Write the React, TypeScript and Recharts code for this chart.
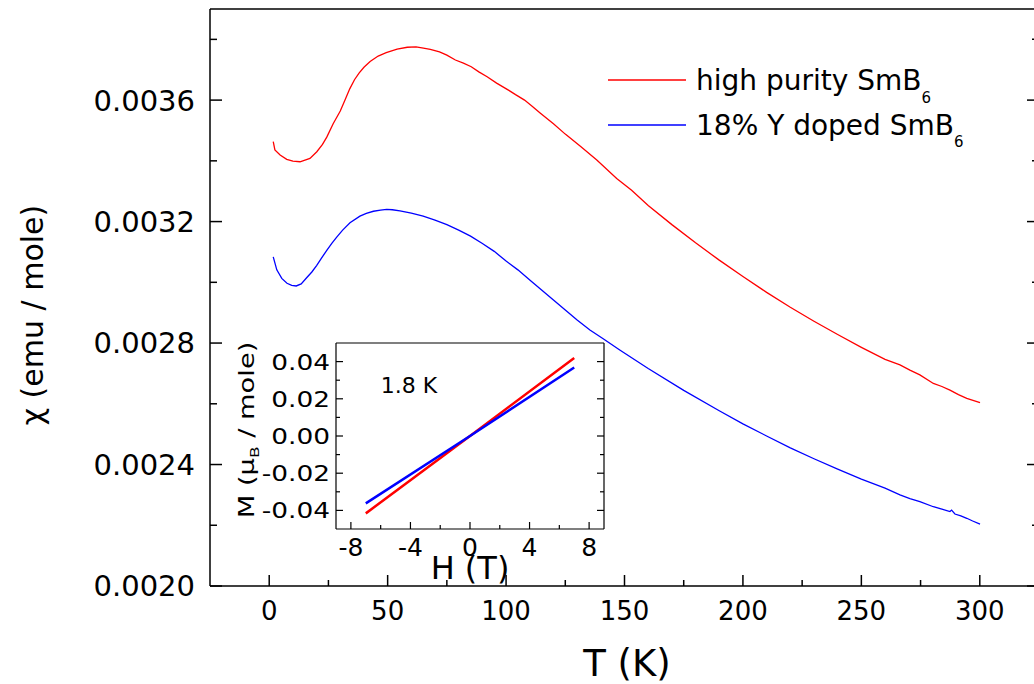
import React from 'react';
import { LineChart, Line, XAxis, YAxis, Customized } from 'recharts';

const FONT = '"DejaVu Sans", Verdana, sans-serif';

// --- main panel: chi(T) ---
const redT = [
  1.7, 2.4, 4.6, 7.4, 10, 13, 17.2, 20.1, 22.5, 24.3, 27, 30, 32, 34, 36, 38, 40, 42.6, 46, 49.4, 54,
  58.3, 62, 65.1, 68, 71.9, 75, 78.6, 82, 85.3, 88.5, 92, 96, 101, 104, 107.8, 111, 114.5, 120, 125,
  131.5, 138.3, 146.7, 153, 160, 170, 180, 190, 200, 210, 220, 230, 240, 250, 260, 266.3, 270.5,
  274.7, 280.4, 284, 287.4, 291, 294.5, 300.1,
];
const redChi = [
  0.003463, 0.003436, 0.003419, 0.003405, 0.003399, 0.003397, 0.003408, 0.00343, 0.003454, 0.003478,
  0.003522, 0.003564, 0.0036, 0.003637, 0.003667, 0.00369, 0.003708, 0.003727, 0.003745, 0.003756,
  0.003768, 0.003774, 0.003775, 0.003771, 0.003767, 0.003759, 0.003748, 0.003732, 0.003722, 0.00371,
  0.003693, 0.003677, 0.003656, 0.003633, 0.003618, 0.0036, 0.00358, 0.003557, 0.003522, 0.003488,
  0.003447, 0.003403, 0.003342, 0.003303, 0.003253, 0.00319, 0.00313, 0.003073, 0.003019, 0.002967,
  0.002918, 0.002872, 0.002828, 0.002786, 0.002746, 0.002728, 0.002711, 0.002695, 0.002667, 0.002657,
  0.002645, 0.00263, 0.002618, 0.002604,
];

const blueT = [
  1.7, 3.2, 5.3, 7.5, 9.5, 11.4, 13.5, 15.8, 18, 20, 22, 24.3, 26.5, 28.5, 31, 34.1, 38.3, 41, 44, 47,
  49.6, 52, 55.2, 60, 65, 70, 75, 80, 85, 90, 95, 100, 105, 110, 115, 120, 125, 130, 135.4, 141, 148,
  160, 175, 190, 200, 210, 220, 230, 240, 250, 260, 266.3, 270.5, 274.7, 280.4, 284, 287.4, 288.1,
  289.5, 292, 294.5, 297, 300.1,
];
const blueChi = [
  0.003084, 0.003041, 0.003013, 0.002997, 0.00299, 0.002988, 0.002995, 0.003015, 0.003034, 0.003055,
  0.003079, 0.003105, 0.003129, 0.003149, 0.003172, 0.003196, 0.003218, 0.003227, 0.003234, 0.003238,
  0.00324, 0.003239, 0.003235, 0.003228, 0.003218, 0.003205, 0.00319, 0.003172, 0.003152, 0.003128,
  0.003102, 0.00307, 0.003041, 0.003008, 0.002975, 0.002942, 0.002909, 0.002876, 0.002843, 0.002814,
  0.002777, 0.002716, 0.002644, 0.002577, 0.002534, 0.002494, 0.002455, 0.002419, 0.002385, 0.002352,
  0.002322, 0.0023, 0.002288, 0.002278, 0.002261, 0.002253, 0.002245, 0.00225, 0.002237, 0.002231,
  0.002223, 0.002214, 0.002204,
];

const tTicks = [0, 25, 50, 75, 100, 125, 150, 175, 200, 225, 250, 275, 300];
const chiTicks = [0.002, 0.0022, 0.0024, 0.0026, 0.0028, 0.003, 0.0032, 0.0034, 0.0036, 0.0038];

// --- inset: M(H) at 1.8 K ---
const insetH = [-7, 0, 7];
const insetRedM = [-0.0416, 0, 0.042];
const insetBlueM = [-0.0362, 0, 0.0368];
const hTicks = [-8, -6, -4, -2, 0, 2, 4, 6, 8];
const mTicks = [-0.04, -0.03, -0.02, -0.01, 0, 0.01, 0.02, 0.03, 0.04];

const redData = redT.map((T, i) => ({ T, chi: redChi[i] }));
const blueData = blueT.map((T, i) => ({ T, chi: blueChi[i] }));
const insetRed = insetH.map((H, i) => ({ H, M: insetRedM[i] }));
const insetBlue = insetH.map((H, i) => ({ H, M: insetBlueM[i] }));

const AX = { stroke: '#000', strokeWidth: 1.5 };
const AX_IN = { stroke: '#000', strokeWidth: 1.2 };

const majorT = (v: number) => v % 50 === 0;
const majorChi = (v: number) => Math.round(v * 10000) % 4 === 0;
const majorH = (v: number) => v % 4 === 0;
const majorM = (v: number) => Math.round(v * 100) % 2 === 0;

// main ticks (inward)
const TBottomTick = (p: any) => {
  const { x, y, payload } = p;
  const big = majorT(payload.value);
  return (
    <g>
      <line x1={x} y1={y} x2={x} y2={y - (big ? 11 : 6)} {...AX} />
      {big && (
        <text x={x} y={y + 25} dy="0.36em" textAnchor="middle" fontFamily={FONT} fontSize={26} fill="#000">
          {payload.value}
        </text>
      )}
    </g>
  );
};

const TTopTick = (p: any) => {
  const { x, y, payload } = p;
  return <line x1={x} y1={y} x2={x} y2={y + (majorT(payload.value) ? 11 : 6)} {...AX} />;
};

const ChiLeftTick = (p: any) => {
  const { x, y, payload } = p;
  const big = majorChi(payload.value);
  return (
    <g>
      <line x1={x} y1={y} x2={x + (big ? 12 : 7)} y2={y} {...AX} />
      {big && (
        <text x={x - 15} y={y} dy="0.36em" textAnchor="end" fontFamily={FONT} fontSize={29} fill="#000">
          {payload.value.toFixed(4)}
        </text>
      )}
    </g>
  );
};

const ChiRightTick = (p: any) => {
  const { x, y, payload } = p;
  return <line x1={x} y1={y} x2={x - (majorChi(payload.value) ? 12 : 7)} y2={y} {...AX} />;
};

// inset ticks (inward)
const HBottomTick = (p: any) => {
  const { x, y, payload } = p;
  const big = majorH(payload.value);
  return (
    <g>
      <line x1={x} y1={y} x2={x} y2={y - (big ? 7 : 4)} {...AX_IN} />
      {big && (
        <text x={x} y={y + 18} dy="0.36em" textAnchor="middle" fontFamily={FONT} fontSize={25} fill="#000">
          {payload.value}
        </text>
      )}
    </g>
  );
};

const HTopTick = (p: any) => {
  const { x, y, payload } = p;
  return <line x1={x} y1={y} x2={x} y2={y + (majorH(payload.value) ? 7 : 4)} {...AX_IN} />;
};

const MLeftTick = (p: any) => {
  const { x, y, payload } = p;
  const big = majorM(payload.value);
  return (
    <g>
      <line x1={x} y1={y} x2={x + (big ? 7 : 4)} y2={y} {...AX_IN} />
      {big && (
        <g transform={`translate(${x - 6},${y}) scale(1.2,1)`}>
          <text x={0} y={0} dy="0.36em" textAnchor="end" fontFamily={FONT} fontSize={22} fill="#000">
            {payload.value.toFixed(2)}
          </text>
        </g>
      )}
    </g>
  );
};

const MRightTick = (p: any) => {
  const { x, y, payload } = p;
  return <line x1={x} y1={y} x2={x - (majorM(payload.value) ? 7 : 4)} y2={y} {...AX_IN} />;
};

const MainDecor = () => (
  <g fontFamily={FONT} fill="#000">
    <line x1={608} y1={80} x2={686} y2={80} stroke="#ff0000" strokeWidth={1.3} />
    <text x={696} y={90} fontSize={28}>
      high purity SmB<tspan dy={13} fontSize={15}>6</tspan>
    </text>
    <line x1={608} y1={125} x2={686} y2={125} stroke="#0000ff" strokeWidth={1.3} />
    <text x={696} y={135} fontSize={28}>
      18% Y doped SmB<tspan dy={12} fontSize={15}>6</tspan>
    </text>
    <text x={627} y={676} textAnchor="middle" fontSize={37}>T (K)</text>
    <text transform="translate(43,315) rotate(-90)" textAnchor="middle" fontSize={30}>
      χ (emu / mole)
    </text>
  </g>
);

const InsetDecor = () => (
  <g fontFamily={FONT} fill="#000">
    <text x={189} y={63} textAnchor="middle" fontSize={22}>1.8 K</text>
    <text x={250} y={249} textAnchor="middle" fontSize={32}>H (T)</text>
    <g transform="translate(34,100) rotate(-90) scale(1.3,1)">
      <text x={0} y={0} textAnchor="middle" fontSize={21}>
        M (μ<tspan dy={5} fontSize={13}>B</tspan>
        <tspan dy={-5}> / mole)</tspan>
      </text>
    </g>
  </g>
);

const App: React.FC = () => {
  return (
    <div
      style={{
        position: 'fixed',
        left: 0,
        top: 0,
        width: 1034,
        height: 684,
        overflow: 'hidden',
        background: '#fff',
      }}
    >
      <LineChart width={1060} height={684} margin={{ top: 0, right: 0, bottom: 0, left: 0 }}>
        <XAxis
          xAxisId="b"
          dataKey="T"
          type="number"
          orientation="bottom"
          domain={[-25, 325]}
          allowDataOverflow
          ticks={tTicks}
          interval={0}
          height={98}
          tickSize={0}
          tickMargin={0}
          tickLine={false}
          axisLine={AX}
          tick={<TBottomTick />}
        />
        <XAxis
          xAxisId="t"
          type="number"
          orientation="top"
          domain={[-25, 325]}
          allowDataOverflow
          ticks={tTicks}
          interval={0}
          height={9}
          tickSize={0}
          tickMargin={0}
          tickLine={false}
          axisLine={AX}
          tick={<TTopTick />}
        />
        <YAxis
          yAxisId="l"
          type="number"
          orientation="left"
          domain={[0.002, 0.0039]}
          allowDataOverflow
          ticks={chiTicks}
          interval={0}
          width={210}
          tickSize={0}
          tickMargin={0}
          tickLine={false}
          axisLine={AX}
          tick={<ChiLeftTick />}
        />
        <YAxis
          yAxisId="r"
          type="number"
          orientation="right"
          domain={[0.002, 0.0039]}
          allowDataOverflow
          ticks={chiTicks}
          interval={0}
          width={21}
          tickSize={0}
          tickMargin={0}
          tickLine={false}
          axisLine={AX}
          tick={<ChiRightTick />}
        />
        <Line
          xAxisId="b"
          yAxisId="l"
          data={redData}
          dataKey="chi"
          name="high purity SmB6"
          type="linear"
          stroke="#ff0000"
          strokeWidth={1.3}
          dot={false}
          isAnimationActive={false}
        />
        <Line
          xAxisId="b"
          yAxisId="l"
          data={blueData}
          dataKey="chi"
          name="18% Y doped SmB6"
          type="linear"
          stroke="#0000ff"
          strokeWidth={1.3}
          dot={false}
          isAnimationActive={false}
        />
        <Customized component={MainDecor} />
      </LineChart>

      {/* Inset: M vs H */}
      <div style={{ position: 'absolute', left: 220, top: 330 }}>
        <LineChart width={400} height={260} margin={{ top: 0, right: 0, bottom: 0, left: 0 }}>
          <XAxis
            xAxisId="b"
            dataKey="H"
            type="number"
            orientation="bottom"
            domain={[-9, 9]}
            allowDataOverflow
            ticks={hTicks}
            interval={0}
            height={61}
            tickSize={0}
            tickMargin={0}
            tickLine={false}
            axisLine={AX_IN}
            tick={<HBottomTick />}
          />
          <XAxis
            xAxisId="t"
            type="number"
            orientation="top"
            domain={[-9, 9]}
            allowDataOverflow
            ticks={hTicks}
            interval={0}
            height={13}
            tickSize={0}
            tickMargin={0}
            tickLine={false}
            axisLine={AX_IN}
            tick={<HTopTick />}
          />
          <YAxis
            yAxisId="l"
            type="number"
            orientation="left"
            domain={[-0.05, 0.05]}
            allowDataOverflow
            ticks={mTicks}
            interval={0}
            width={116}
            tickSize={0}
            tickMargin={0}
            tickLine={false}
            axisLine={AX_IN}
            tick={<MLeftTick />}
          />
          <YAxis
            yAxisId="r"
            type="number"
            orientation="right"
            domain={[-0.05, 0.05]}
            allowDataOverflow
            ticks={mTicks}
            interval={0}
            width={16}
            tickSize={0}
            tickMargin={0}
            tickLine={false}
            axisLine={AX_IN}
            tick={<MRightTick />}
          />
          <Line
            xAxisId="b"
            yAxisId="l"
            data={insetRed}
            dataKey="M"
            type="linear"
            stroke="#ff0000"
            strokeWidth={2.5}
            dot={false}
            isAnimationActive={false}
          />
          <Line
            xAxisId="b"
            yAxisId="l"
            data={insetBlue}
            dataKey="M"
            type="linear"
            stroke="#0000ff"
            strokeWidth={2.5}
            dot={false}
            isAnimationActive={false}
          />
          <Customized component={InsetDecor} />
        </LineChart>
      </div>
    </div>
  );
};

export default App;
